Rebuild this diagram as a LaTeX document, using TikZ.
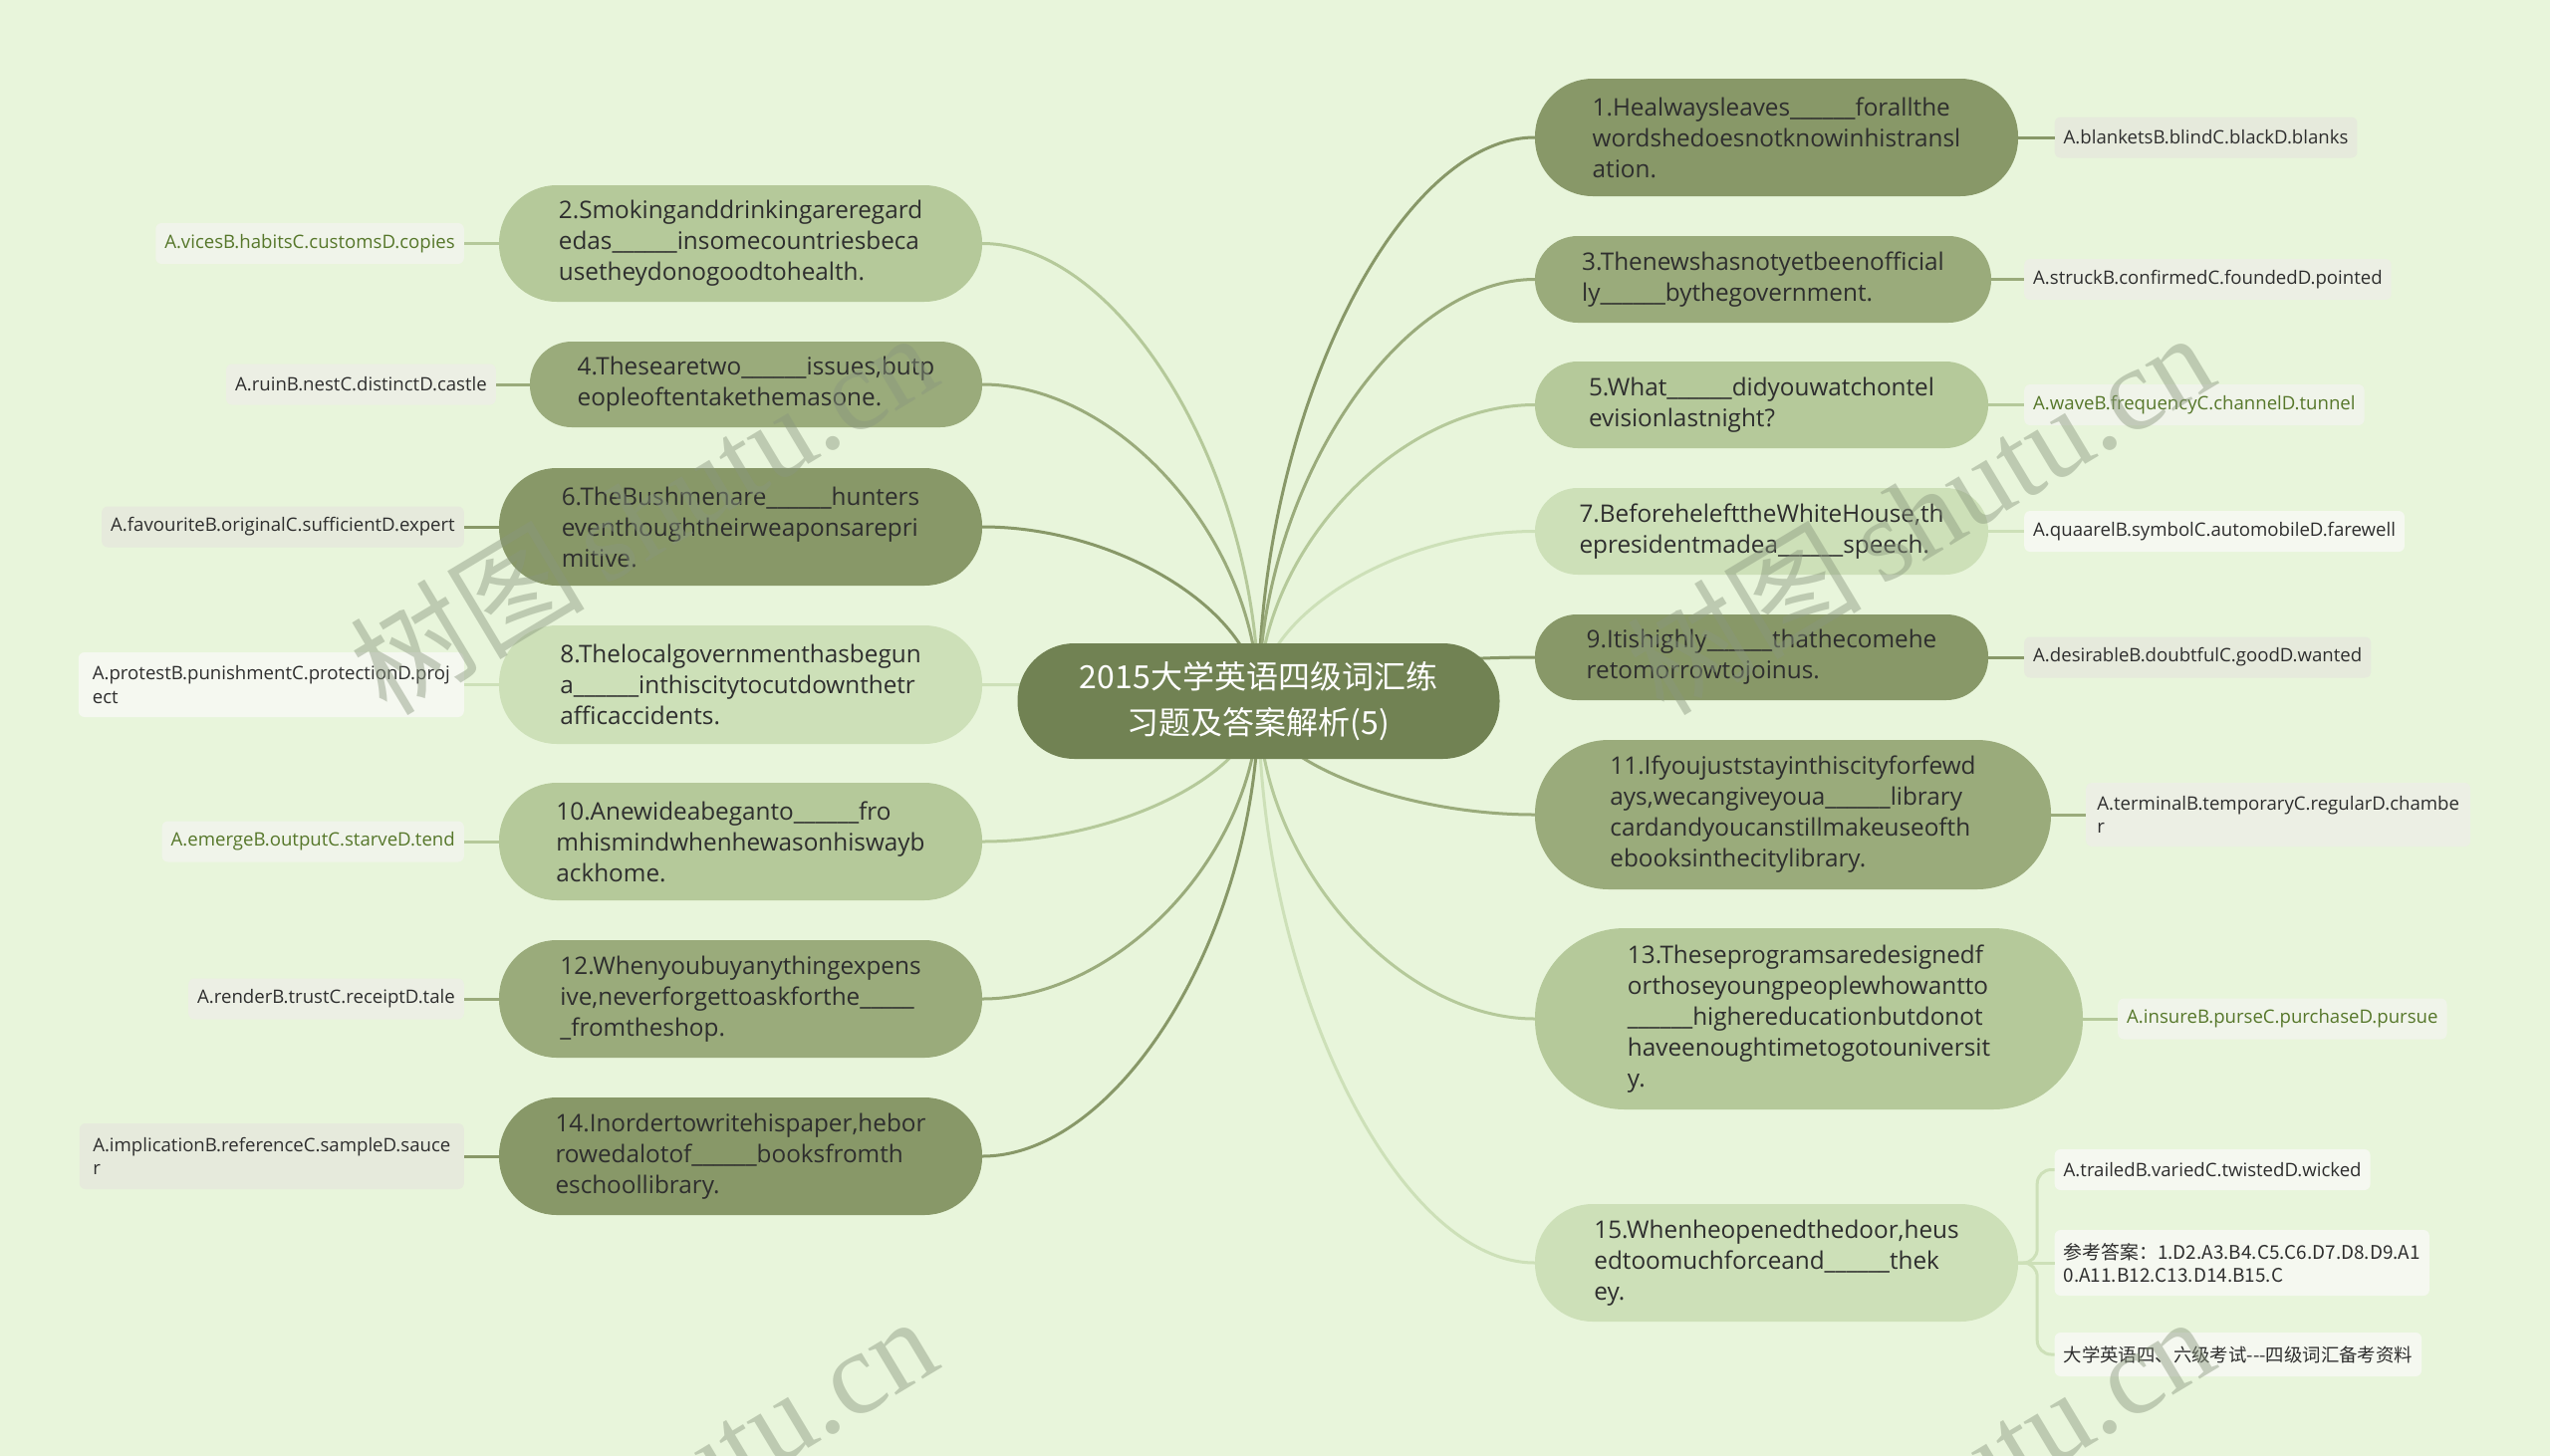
\documentclass[tikz,border=0pt]{standalone}
\usepackage{fontspec}
\setmainfont{Open Sans}
\newfontfamily\cjk{Noto Sans CJK SC}
\newfontfamily\wmserif{Liberation Serif}
\usetikzlibrary{calc}
\pgfdeclarelayer{back}
\pgfsetlayers{back,main}
\definecolor{bg}{HTML}{E8F5DB}
\definecolor{cen}{HTML}{718253}
\definecolor{ca}{HTML}{889868}
\definecolor{cb}{HTML}{9AAB7B}
\definecolor{cc}{HTML}{B5C99A}
\definecolor{cd}{HTML}{CDE0B8}
\definecolor{aa}{HTML}{E6EADC}
\definecolor{ab}{HTML}{ECEFE4}
\definecolor{ac}{HTML}{F0F4EA}
\definecolor{ad}{HTML}{F5F8F0}
\definecolor{txt}{HTML}{2E2E2E}
\definecolor{gtxt}{HTML}{56772A}
\definecolor{wmc}{HTML}{8A977E}
\tikzset{
  qbox/.style={rectangle, text=txt, font=\fontsize{24.3}{31}\selectfont, align=left, inner sep=0pt},
  abox/.style={rectangle, rounded corners=6, inner xsep=9, inner ysep=0, minimum height=41,
     font=\fontsize{18.6}{23.5}\selectfont, align=left, text=txt},
  link/.style={line width=3},
  wm/.style={text=wmc, opacity=0.45, font=\fontsize{118}{118}\selectfont, inner sep=0pt}
}
\newcommand\hubline[2]{\draw[link, draw=#2] (ctr.center) .. controls ($(ctr.center)!0.5!(ctr.center|-#1)$) and ($(#1)!0.5!(ctr.center|-#1)$) .. (#1);}
\newcommand\blank{\_\_\_\_\_\_}
\begin{document}
\begin{tikzpicture}[x=1pt, y=-1pt]
\useasboundingbox (0,0) rectangle (2560,1462);

% central node
\node[fill=cen, rounded corners=57, minimum width=484, minimum height=116, text=white,
      font=\cjk\fontsize{32}{46}\selectfont, align=center, inner sep=0pt] (ctr) at (1263.5,704)
      {2015大学英语四级词汇练\\习题及答案解析(5)};

% right question nodes
\node[qbox, fill=ca, minimum width=485, minimum height=118, rounded corners=58] (n1) at (1783.5,138)
  {1.Healwaysleaves\blank forallthe\\wordshedoesnotknowinhistransl\\ation.};
\node[qbox, fill=cb, minimum width=458, minimum height=87, rounded corners=43] (n3) at (1770,280.5)
  {3.Thenewshasnotyetbeenofficial\\ly\blank bythegovernment.};
\node[qbox, fill=cc, minimum width=455, minimum height=87, rounded corners=43] (n5) at (1768.5,406.5)
  {5.What\blank didyouwatchontel\\evisionlastnight?};
\node[qbox, fill=cd, minimum width=455, minimum height=87, rounded corners=43] (n7) at (1768.5,533.5)
  {7.BeforehelefttheWhiteHouse,th\\epresidentmadea\blank speech.};
\node[qbox, fill=ca, minimum width=455, minimum height=86, rounded corners=42] (n9) at (1768.5,660)
  {9.Itishighly\blank thathecomehe\\retomorrowtojoinus.};
\node[qbox, fill=cb, minimum width=518, minimum height=150, rounded corners=74] (n11) at (1800,818)
  {11.Ifyoujuststayinthiscityforfewd\\ays,wecangiveyoua\blank library\\cardandyoucanstillmakeuseofth\\ebooksinthecitylibrary.};
\node[qbox, fill=cc, minimum width=550, minimum height=182, rounded corners=90] (n13) at (1816,1023)
  {13.Theseprogramsaredesignedf\\orthoseyoungpeoplewhowantto\\\blank highereducationbutdonot\\haveenoughtimetogotouniversit\\y.};
\node[qbox, fill=cd, minimum width=485, minimum height=118, rounded corners=58] (n15) at (1783.5,1268)
  {15.Whenheopenedthedoor,heus\\edtoomuchforceand\blank thek\\ey.};

% left question nodes
\node[qbox, fill=cc, minimum width=485, minimum height=117, rounded corners=58] (n2) at (743.5,244.5)
  {2.Smokinganddrinkingareregard\\edas\blank insomecountriesbeca\\usetheydonogoodtohealth.};
\node[qbox, fill=cb, minimum width=454, minimum height=86, rounded corners=42] (n4) at (759,386)
  {4.Thesearetwo\blank issues,butp\\eopleoftentakethemasone.};
\node[qbox, fill=ca, minimum width=485, minimum height=118, rounded corners=58] (n6) at (743.5,529)
  {6.TheBushmenare\blank hunters\\eventhoughtheirweaponsarepri\\mitive.};
\node[qbox, fill=cd, minimum width=485, minimum height=119, rounded corners=58] (n8) at (743.5,687.5)
  {8.Thelocalgovernmenthasbegun\\a\blank inthiscitytocutdownthetr\\afficaccidents.};
\node[qbox, fill=cc, minimum width=485, minimum height=118, rounded corners=58] (n10) at (743.5,845)
  {10.Anewideabeganto\blank fro\\mhismindwhenhewasonhiswayb\\ackhome.};
\node[qbox, fill=cb, minimum width=485, minimum height=118, rounded corners=58] (n12) at (743.5,1003)
  {12.Whenyoubuyanythingexpens\\ive,neverforgettoaskforthe\_\_\_\_\_\\\_fromtheshop.};
\node[qbox, fill=ca, minimum width=485, minimum height=118, rounded corners=58] (n14) at (743.5,1161)
  {14.Inordertowritehispaper,hebor\\rowedalotof\blank booksfromth\\eschoollibrary.};

% right answers
\node[abox, fill=aa, anchor=west] (a1) at (2062.5,138) {A.blanketsB.blindC.blackD.blanks};
\node[abox, fill=ab, anchor=west] (a3) at (2032,280.5) {A.struckB.confirmedC.foundedD.pointed};
\node[abox, fill=ac, anchor=west, text=gtxt] (a5) at (2032,406.5) {A.waveB.frequencyC.channelD.tunnel};
\node[abox, fill=ad, anchor=west] (a7) at (2032,533.5) {A.quaarelB.symbolC.automobileD.farewell};
\node[abox, fill=aa, anchor=west] (a9) at (2032,660) {A.desirableB.doubtfulC.goodD.wanted};
\node[abox, fill=ab, anchor=west, minimum height=64, minimum width=386] (a11) at (2094,818) {A.terminalB.temporaryC.regularD.chambe\\r};
\node[abox, fill=ac, anchor=west, text=gtxt] (a13) at (2126,1023) {A.insureB.purseC.purchaseD.pursue};
\node[abox, fill=ad, anchor=west] (a15a) at (2062.5,1174.5) {A.trailedB.variedC.twistedD.wicked};
\node[abox, fill=ad, anchor=west, minimum height=66, font=\cjk\fontsize{18.9}{23}\selectfont] (a15b) at (2062.5,1268)
  {参考答案：1.D2.A3.B4.C5.C6.D7.D8.D9.A1\\0.A11.B12.C13.D14.B15.C};
\node[abox, fill=ad, anchor=west, minimum height=44, font=\cjk\fontsize{18.4}{23}\selectfont] (a15c) at (2062.5,1360)
  {大学英语四、六级考试---四级词汇备考资料};

% left answers
\node[abox, fill=ac, anchor=east, text=gtxt] (a2) at (466,244.5) {A.vicesB.habitsC.customsD.copies};
\node[abox, fill=ab, anchor=east] (a4) at (498,386) {A.ruinB.nestC.distinctD.castle};
\node[abox, fill=aa, anchor=east] (a6) at (466,529) {A.favouriteB.originalC.sufficientD.expert};
\node[abox, fill=ad, anchor=east, minimum height=65, minimum width=387] (a8) at (466,687.5) {A.protestB.punishmentC.protectionD.proj\\ect};
\node[abox, fill=ac, anchor=east, text=gtxt] (a10) at (466,845) {A.emergeB.outputC.starveD.tend};
\node[abox, fill=ab, anchor=east] (a12) at (466,1003) {A.renderB.trustC.receiptD.tale};
\node[abox, fill=aa, anchor=east, minimum height=66, minimum width=386] (a14) at (466,1161) {A.implicationB.referenceC.sampleD.sauce\\r};

\begin{pgfonlayer}{back}
\fill[bg] (0,0) rectangle (2560,1462);
\hubline{n1.west}{ca}
\hubline{n3.west}{cb}
\hubline{n5.west}{cc}
\hubline{n7.west}{cd}
\hubline{n9.west}{ca}
\hubline{n11.west}{cb}
\hubline{n13.west}{cc}
\hubline{n15.west}{cd}
\hubline{n2.east}{cc}
\hubline{n4.east}{cb}
\hubline{n6.east}{ca}
\hubline{n8.east}{cd}
\hubline{n10.east}{cc}
\hubline{n12.east}{cb}
\hubline{n14.east}{ca}
\end{pgfonlayer}

% node to answer links
\draw[link, ca] (n1.east) -- (a1.west);
\draw[link, cb] (n3.east) -- (a3.west);
\draw[link, cc] (n5.east) -- (a5.west);
\draw[link, cd] (n7.east) -- (a7.west);
\draw[link, ca] (n9.east) -- (a9.west);
\draw[link, cb] (n11.east) -- (a11.west);
\draw[link, cc] (n13.east) -- (a13.west);
\draw[link, cd, rounded corners=14] (n15.east) -- ++(19,0) |- (a15a.west);
\draw[link, cd] (n15.east) -- (a15b.west);
\draw[link, cd, rounded corners=14] (n15.east) -- ++(19,0) |- (a15c.west);
\draw[link, cc] (n2.west) -- (a2.east);
\draw[link, cb] (n4.west) -- (a4.east);
\draw[link, ca] (n6.west) -- (a6.east);
\draw[link, cd] (n8.west) -- (a8.east);
\draw[link, cc] (n10.west) -- (a10.east);
\draw[link, cb] (n12.west) -- (a12.east);
\draw[link, ca] (n14.west) -- (a14.east);

% watermarks
\begin{scope}
\clip (0,0) rectangle (2560,1462);
\node[wm, rotate=31] (w1) at (645,514) {{\cjk 树图}\,{\wmserif shutu.cn}};
\node[wm, rotate=31] (w2) at (1927,514) {{\cjk 树图}\,{\wmserif shutu.cn}};
\node[wm, rotate=31] (w3) at (645,1502) {{\cjk 树图}\,{\wmserif shutu.cn}};
\node[wm, rotate=31] (w4) at (1927,1502) {{\cjk 树图}\,{\wmserif shutu.cn}};
\end{scope}
\end{tikzpicture}
\end{document}
